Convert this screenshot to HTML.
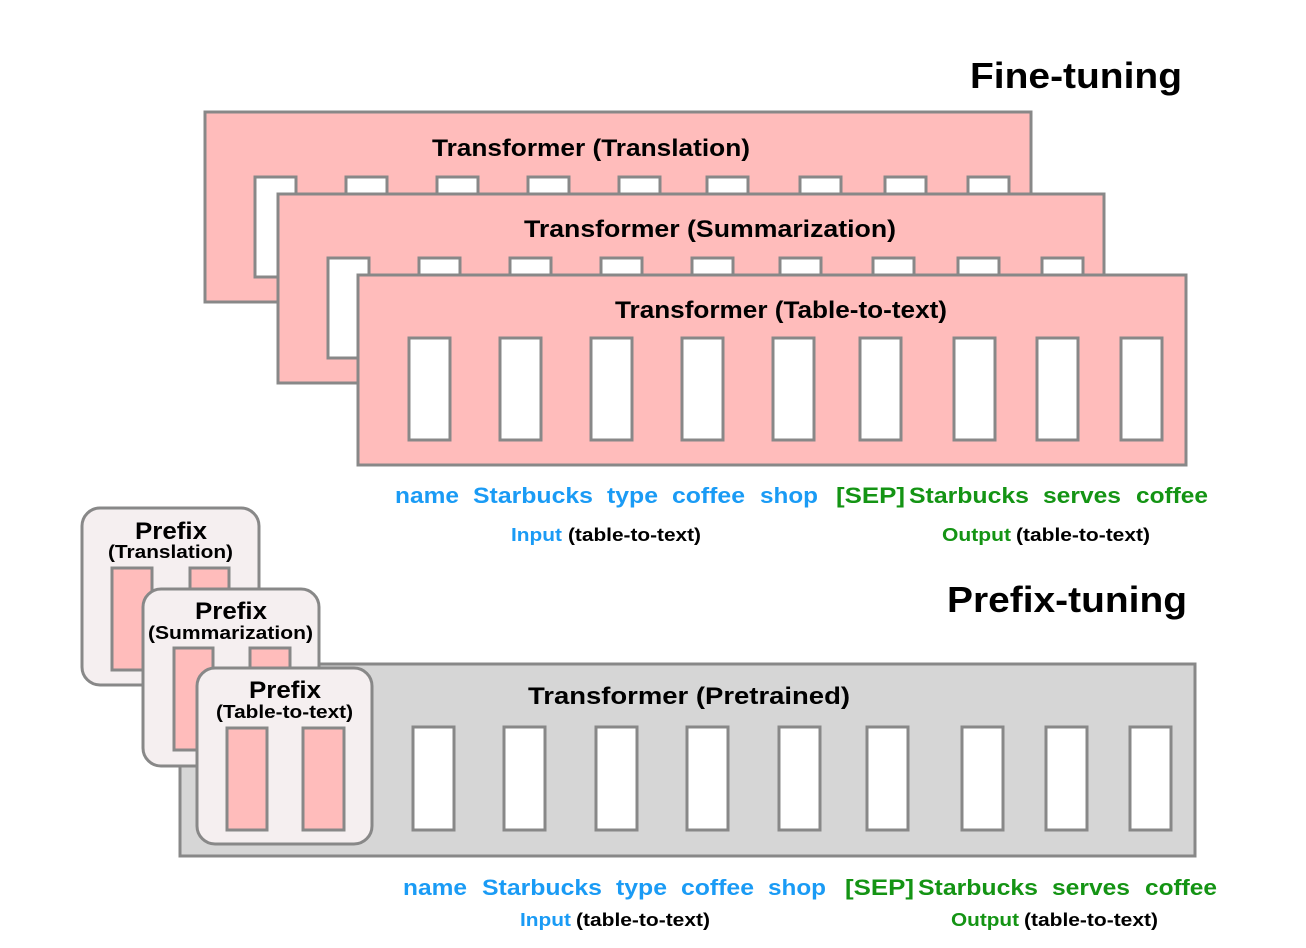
<!DOCTYPE html>
<html><head><meta charset="utf-8"><style>
html,body{margin:0;padding:0;background:#fff;}
svg{display:block;}
text{font-family:"Liberation Sans",Arial,sans-serif;font-weight:bold;}
</style></head><body>
<svg width="1306" height="948" viewBox="0 0 1306 948" xmlns="http://www.w3.org/2000/svg">
<g stroke="#888" stroke-width="3">
<!-- Box 1 -->
<rect x="205" y="112" width="826" height="190" fill="#ffbcbb"/>
<g fill="#fff">
<rect x="255" y="177" width="41" height="100"/>
<rect x="346" y="177" width="41" height="30"/><rect x="437" y="177" width="41" height="30"/>
<rect x="528" y="177" width="41" height="30"/><rect x="619" y="177" width="41" height="30"/>
<rect x="707" y="177" width="41" height="30"/><rect x="800" y="177" width="41" height="30"/>
<rect x="885" y="177" width="41" height="30"/><rect x="968" y="177" width="41" height="30"/>
</g>
<!-- Box 2 -->
<rect x="278" y="194" width="826" height="189" fill="#ffbcbb"/>
<g fill="#fff">
<rect x="328" y="258" width="41" height="100"/>
<rect x="419" y="258" width="41" height="30"/><rect x="510" y="258" width="41" height="30"/>
<rect x="601" y="258" width="41" height="30"/><rect x="692" y="258" width="41" height="30"/>
<rect x="780" y="258" width="41" height="30"/><rect x="873" y="258" width="41" height="30"/>
<rect x="958" y="258" width="41" height="30"/><rect x="1042" y="258" width="41" height="30"/>
</g>
<!-- Box 3 -->
<rect x="358" y="275" width="828" height="190" fill="#ffbcbb"/>
<g fill="#fff">
<rect x="409" y="338" width="41" height="102"/><rect x="500" y="338" width="41" height="102"/>
<rect x="591" y="338" width="41" height="102"/><rect x="682" y="338" width="41" height="102"/>
<rect x="773" y="338" width="41" height="102"/><rect x="860" y="338" width="41" height="102"/>
<rect x="954" y="338" width="41" height="102"/><rect x="1037" y="338" width="41" height="102"/>
<rect x="1121" y="338" width="41" height="102"/>
</g>
<!-- Pretrained -->
<rect x="180" y="664" width="1015" height="192" fill="#d6d6d6"/>
<g fill="#fff">
<rect x="413" y="727" width="41" height="103"/><rect x="504" y="727" width="41" height="103"/>
<rect x="596" y="727" width="41" height="103"/><rect x="687" y="727" width="41" height="103"/>
<rect x="779" y="727" width="41" height="103"/><rect x="867" y="727" width="41" height="103"/>
<rect x="962" y="727" width="41" height="103"/><rect x="1046" y="727" width="41" height="103"/>
<rect x="1130" y="727" width="41" height="103"/>
</g>
<!-- Prefix boxes -->
<rect x="82" y="508" width="177" height="177" rx="18" fill="#f5eff0"/>
<rect x="112" y="568" width="40" height="102" fill="#ffbcbb"/>
<rect x="190" y="568" width="39" height="102" fill="#ffbcbb"/>
<rect x="143" y="589" width="176" height="177" rx="18" fill="#f5eff0"/>
<rect x="174" y="648" width="39" height="102" fill="#ffbcbb"/>
<rect x="250" y="648" width="40" height="102" fill="#ffbcbb"/>
<rect x="197" y="668" width="175" height="176" rx="18" fill="#f5eff0"/>
<rect x="227" y="728" width="40" height="102" fill="#ffbcbb"/>
<rect x="303" y="728" width="41" height="102" fill="#ffbcbb"/>
</g>
<g fill="#000" font-size="24">
<text x="432" y="156" textLength="318" lengthAdjust="spacingAndGlyphs">Transformer (Translation)</text>
<text x="524" y="237" textLength="372" lengthAdjust="spacingAndGlyphs">Transformer (Summarization)</text>
<text x="615" y="318" textLength="332" lengthAdjust="spacingAndGlyphs">Transformer (Table-to-text)</text>
<text x="528" y="704" textLength="322" lengthAdjust="spacingAndGlyphs">Transformer  (Pretrained)</text>
<text x="970" y="88" font-size="36" textLength="212" lengthAdjust="spacingAndGlyphs">Fine-tuning</text>
<text x="947" y="612" font-size="36" textLength="240" lengthAdjust="spacingAndGlyphs">Prefix-tuning</text>
<text x="135" y="539" textLength="72" lengthAdjust="spacingAndGlyphs">Prefix</text>
<text x="108" y="558" font-size="18" textLength="125" lengthAdjust="spacingAndGlyphs">(Translation)</text>
<text x="195" y="619" textLength="72" lengthAdjust="spacingAndGlyphs">Prefix</text>
<text x="148" y="639" font-size="18" textLength="165" lengthAdjust="spacingAndGlyphs">(Summarization)</text>
<text x="249" y="698" textLength="72" lengthAdjust="spacingAndGlyphs">Prefix</text>
<text x="216" y="718" font-size="18" textLength="137" lengthAdjust="spacingAndGlyphs">(Table-to-text)</text>
</g>
<g font-size="22">
<g fill="#1a9bf5">
<text x="395" y="503" textLength="64" lengthAdjust="spacingAndGlyphs">name</text>
<text x="473" y="503" textLength="120" lengthAdjust="spacingAndGlyphs">Starbucks</text>
<text x="607" y="503" textLength="51" lengthAdjust="spacingAndGlyphs">type</text>
<text x="672" y="503" textLength="73" lengthAdjust="spacingAndGlyphs">coffee</text>
<text x="760" y="503" textLength="58" lengthAdjust="spacingAndGlyphs">shop</text>
<text x="403" y="895" textLength="64" lengthAdjust="spacingAndGlyphs">name</text>
<text x="482" y="895" textLength="120" lengthAdjust="spacingAndGlyphs">Starbucks</text>
<text x="616" y="895" textLength="51" lengthAdjust="spacingAndGlyphs">type</text>
<text x="681" y="895" textLength="73" lengthAdjust="spacingAndGlyphs">coffee</text>
<text x="768" y="895" textLength="58" lengthAdjust="spacingAndGlyphs">shop</text>
<text x="511" y="541" font-size="18" textLength="51" lengthAdjust="spacingAndGlyphs">Input</text>
<text x="520" y="926" font-size="18" textLength="51" lengthAdjust="spacingAndGlyphs">Input</text>
</g>
<g fill="#149414">
<text x="836" y="503" textLength="69" lengthAdjust="spacingAndGlyphs">[SEP]</text>
<text x="909" y="503" textLength="120" lengthAdjust="spacingAndGlyphs">Starbucks</text>
<text x="1043" y="503" textLength="78" lengthAdjust="spacingAndGlyphs">serves</text>
<text x="1136" y="503" textLength="72" lengthAdjust="spacingAndGlyphs">coffee</text>
<text x="845" y="895" textLength="69" lengthAdjust="spacingAndGlyphs">[SEP]</text>
<text x="918" y="895" textLength="120" lengthAdjust="spacingAndGlyphs">Starbucks</text>
<text x="1052" y="895" textLength="78" lengthAdjust="spacingAndGlyphs">serves</text>
<text x="1145" y="895" textLength="72" lengthAdjust="spacingAndGlyphs">coffee</text>
<text x="942" y="541" font-size="18" textLength="69" lengthAdjust="spacingAndGlyphs">Output</text>
<text x="951" y="926" font-size="18" textLength="68" lengthAdjust="spacingAndGlyphs">Output</text>
</g>
<g fill="#000" font-size="18">
<text x="568" y="541" textLength="133" lengthAdjust="spacingAndGlyphs">(table-to-text)</text>
<text x="1016" y="541" textLength="134" lengthAdjust="spacingAndGlyphs">(table-to-text)</text>
<text x="576" y="926" textLength="134" lengthAdjust="spacingAndGlyphs">(table-to-text)</text>
<text x="1024" y="926" textLength="134" lengthAdjust="spacingAndGlyphs">(table-to-text)</text>
</g>
</g>
</svg>
</body></html>
